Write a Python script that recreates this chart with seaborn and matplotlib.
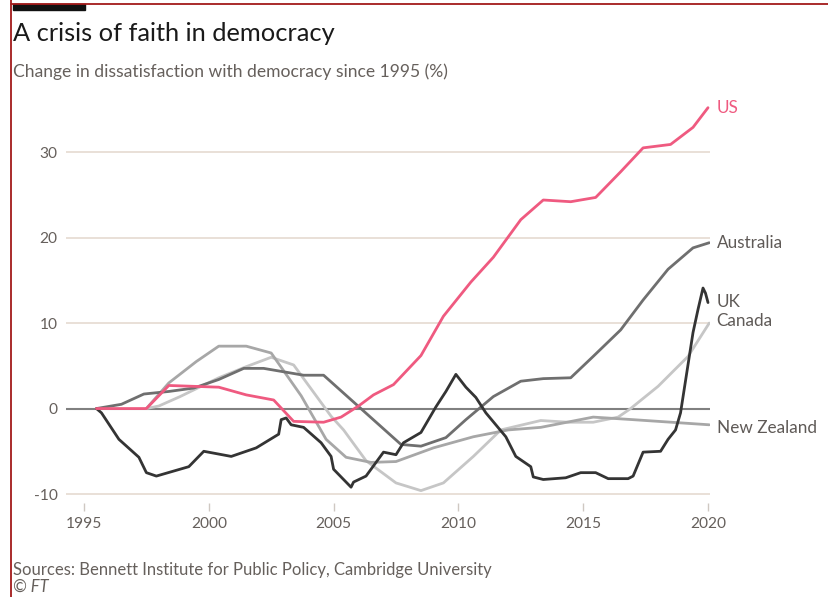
import matplotlib
matplotlib.use("Agg")
import matplotlib.pyplot as plt
from matplotlib import font_manager
import seaborn as sns
import pandas as pd

# ---------------- data ----------------
us_years = [1995.5, 1997.5, 1998.4, 2000.4, 2001.5, 2002.6, 2003.4, 2004.6, 2005.3, 2006.0,
            2006.6, 2007.4, 2008.5, 2009.4, 2010.5, 2011.4, 2012.5, 2013.4, 2014.5, 2015.5,
            2016.5, 2017.4, 2018.5, 2019.4, 2020.0]
us_values = [0, 0, 2.7, 2.5, 1.6, 1.0, -1.5, -1.6, -1.0, 0.3,
             1.6, 2.8, 6.2, 10.8, 14.8, 17.7, 22.1, 24.4, 24.2, 24.7,
             27.7, 30.5, 30.9, 32.9, 35.2]

au_years = [1995.5, 1996.5, 1997.4, 1998.4, 1999.4, 2000.4, 2001.4, 2002.2, 2003.0, 2003.8,
            2004.6, 2007.7, 2008.5, 2009.5, 2010.3, 2011.4, 2012.5, 2013.4, 2014.5, 2015.4,
            2016.5, 2017.4, 2018.4, 2019.4, 2020.05]
au_values = [0, 0.5, 1.7, 2.0, 2.4, 3.4, 4.7, 4.7, 4.3, 3.9,
             3.9, -4.2, -4.4, -3.4, -1.3, 1.4, 3.2, 3.5, 3.6, 6.1,
             9.2, 12.7, 16.3, 18.8, 19.4]

uk_years = [1995.5, 1995.7, 1996.4, 1997.2, 1997.5, 1997.9, 1999.2, 1999.8, 2000.9, 2001.9,
            2002.8, 2002.9, 2003.1, 2003.3, 2003.8, 2004.5, 2004.9, 2005.0, 2005.7, 2005.8,
            2006.3, 2007.0, 2007.5, 2007.8, 2008.5, 2009.1, 2009.5, 2009.9, 2010.3, 2010.7,
            2011.1, 2011.9, 2012.3, 2012.9, 2013.0, 2013.4, 2014.3, 2014.9, 2015.5, 2016.0,
            2016.8, 2017.0, 2017.4, 2018.1, 2018.4, 2018.7, 2018.9, 2019.4, 2019.6, 2019.8,
            2019.9, 2020.0]
uk_values = [0, -0.5, -3.6, -5.7, -7.5, -7.9, -6.8, -5.0, -5.6, -4.6,
             -3.0, -1.3, -1.1, -1.9, -2.2, -4.0, -5.6, -7.1, -9.2, -8.6,
             -7.9, -5.1, -5.4, -4.0, -2.8, 0.2, 2.0, 4.0, 2.5, 1.3,
             -0.5, -3.3, -5.6, -6.8, -8.0, -8.3, -8.1, -7.5, -7.5, -8.2,
             -8.2, -7.9, -5.1, -5.0, -3.6, -2.5, -0.5, 8.9, 11.6, 14.1,
             13.5, 12.4]

ca_years = [1997.5, 1998.0, 1998.85, 2000.4, 2001.5, 2002.5, 2003.4, 2004.9, 2005.4, 2006.3,
            2007.5, 2008.5, 2009.4, 2010.6, 2011.7, 2013.3, 2014.4, 2015.4, 2016.4, 2016.9,
            2018.0, 2019.2, 2020.05]
ca_values = [0, 0.3, 1.4, 3.6, 4.9, 6.0, 5.1, -0.9, -2.5, -6.1,
             -8.7, -9.6, -8.7, -5.6, -2.5, -1.4, -1.6, -1.6, -1.0, 0.0,
             2.6, 6.1, 10.0]

nz_years = [1997.5, 1998.4, 1999.5, 2000.4, 2001.5, 2002.5, 2003.7, 2004.7, 2005.5, 2006.5,
            2007.5, 2009.0, 2010.6, 2012.0, 2013.3, 2015.4, 2017.0, 2020.05]
nz_values = [0, 3.0, 5.5, 7.3, 7.3, 6.5, 1.5, -3.6, -5.7, -6.3,
             -6.2, -4.6, -3.3, -2.5, -2.2, -1.0, -1.3, -1.9]

countries = ["Canada", "New Zealand", "Australia", "UK", "US"]
y_ticks = [-10, 0, 10, 20, 30]
x_ticks = [1995, 2000, 2005, 2010, 2015, 2020]

title = "A crisis of faith in democracy"
subtitle = "Change in dissatisfaction with democracy since 1995 (%)"
source = "Sources: Bennett Institute for Public Policy, Cambridge University"
credit = "\u00a9 FT"

# ---------------- styling ----------------
palette = {"US": "#ef5a80", "Australia": "#6f6f6f", "UK": "#343434",
           "Canada": "#c6c6c6", "New Zealand": "#a7a7a7"}
label_colors = {"US": "#ef5a80", "Australia": "#5f5a57", "UK": "#5f5a57",
                "Canada": "#5f5a57", "New Zealand": "#5f5a57"}
text_grey = "#66605c"

sns.set_theme(style="white")
available = {f.name for f in font_manager.fontManager.ttflist}
family = None
for cand in ["Lato", "Roboto", "DejaVu Sans"]:
    if cand in available:
        family = cand
        break
plt.rcParams["font.family"] = [family, "DejaVu Sans"]

frames = []
for name, xs, ys in [("US", us_years, us_values), ("Australia", au_years, au_values),
                     ("UK", uk_years, uk_values), ("Canada", ca_years, ca_values),
                     ("New Zealand", nz_years, nz_values)]:
    frames.append(pd.DataFrame({"year": xs, "value": ys, "country": name}))
df = pd.concat(frames, ignore_index=True)

W, H = 829, 597
fig = plt.figure(figsize=(W / 100, H / 100), dpi=100)
fig.patch.set_facecolor("white")

left_px, right_px, top_px, bottom_px = 66, 710, 100, 503
ax = fig.add_axes([left_px / W, 1 - bottom_px / H, (right_px - left_px) / W, (bottom_px - top_px) / H])

sns.lineplot(data=df, x="year", y="value", hue="country", hue_order=countries,
             palette=palette, estimator=None, sort=False, linewidth=2.0,
             legend=False, ax=ax, zorder=3)

ax.set_xlim(1994.28, 2020.08)
ax.set_ylim(-11.05, 36.1)

ax.set_yticks(y_ticks)
ax.set_xticks(x_ticks)
ax.yaxis.grid(True, color="#e9e0d7", linewidth=1.4, zorder=0)
ax.xaxis.grid(False)
ax.axhline(0, color="#808080", linewidth=1.5, zorder=1)
for s in ax.spines.values():
    s.set_visible(False)

ax.tick_params(axis="y", length=0, pad=6, labelsize=11.2, labelcolor=text_grey)
ax.tick_params(axis="x", bottom=True, length=6, width=1.0, color="#cfc8c2",
               pad=4, labelsize=11.2, labelcolor=text_grey, direction="out")
ax.set_yticklabels([str(v) for v in y_ticks])
ax.set_xticklabels([str(v) for v in x_ticks])
ax.set_xlabel("")
ax.set_ylabel("")

# end-of-line labels
label_y = {"US": us_values[-1], "Australia": au_values[-1], "UK": uk_values[-1] + 0.1,
           "Canada": ca_values[-1] + 0.25, "New Zealand": nz_values[-1] - 0.35}
for name in countries:
    ax.text(2020.35, label_y[name], name, color=label_colors[name], fontsize=12.3,
            va="center", ha="left", clip_on=False)

# titles and footer
fig.text(13 / W, 1 - 41 / H, title, fontsize=18.3, color="#1a1a1a", va="baseline", ha="left")
fig.text(13 / W, 1 - 77 / H, subtitle, fontsize=12.6, color=text_grey, va="baseline", ha="left")
fig.text(13 / W, 1 - 575 / H, source, fontsize=12.0, color=text_grey, va="baseline", ha="left")
fig.text(13 / W, 1 - 592 / H, credit, fontsize=12.0, color=text_grey, va="baseline", ha="left",
         style="italic")

# screenshot frame: red border and FT black bar
fig.add_artist(plt.Line2D([11.5 / W, 11.5 / W], [0, 1], color="#a31a1a", linewidth=1.3,
                          transform=fig.transFigure))
fig.add_artist(plt.Line2D([11.5 / W, 1], [1 - 3.5 / H, 1 - 3.5 / H], color="#a31a1a",
                          linewidth=1.3, transform=fig.transFigure))
fig.add_artist(plt.Rectangle((13 / W, 1 - 10 / H), 72 / W, 5.5 / H, color="#111111",
                             transform=fig.transFigure))

fig.savefig("out.png", dpi=100, facecolor="white")
